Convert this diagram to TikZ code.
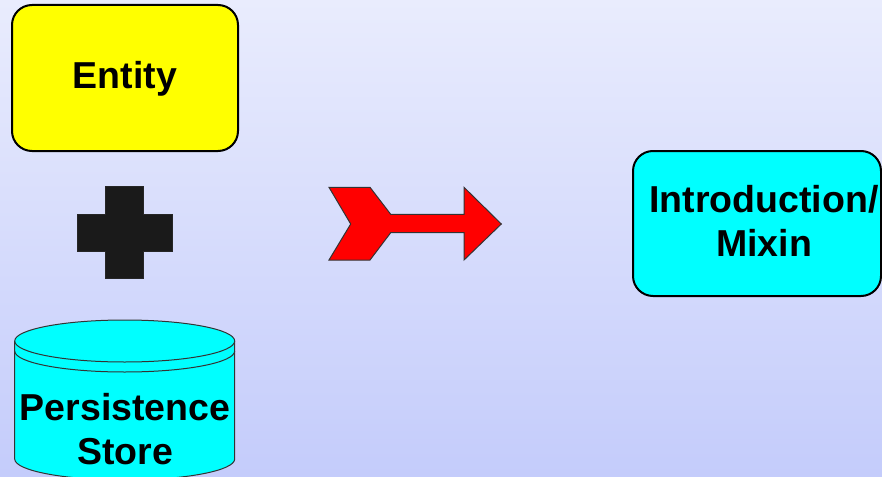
\documentclass[tikz,border=0pt]{standalone}
\usepackage{fontspec}
\setmainfont{Liberation Sans}
\definecolor{bgtop}{HTML}{E9ECFD}
\definecolor{bgbot}{HTML}{C4CCFB}
\definecolor{plusgray}{HTML}{1A1A1A}
\definecolor{cyanfill}{HTML}{00FFFF}
\definecolor{yellowfill}{HTML}{FFFF00}
\definecolor{redfill}{HTML}{FF0000}
\begin{document}
\begin{tikzpicture}[x=1pt,y=-1pt,
  lbl/.style={font=\fontsize{37.5}{44}\selectfont\bfseries, anchor=base, inner sep=0pt, align=center},
  roundbox/.style={draw=black, line width=2pt, rounded corners=20pt, inner sep=0pt},
  thin/.style={draw=black!80, line width=1pt}]
\shade[top color=bgtop, bottom color=bgbot] (0,0) rectangle (882,476);
\useasboundingbox (0,0) rectangle (882,476);
\begin{scope}
\clip (0,0) rectangle (882,476);
% Entity box
\node[roundbox, fill=yellowfill, minimum width=226pt, minimum height=146pt] (entity) at (125,78) {};
\node[lbl] (entitytxt) at (125,88.3) {Entity};
% plus
\path[fill=plusgray, draw=black!85, line width=0.8pt]
  (105.7,186.7) -- (143.7,186.7) -- (143.7,214) -- (172.3,214) -- (172.3,251.3)
  -- (143.7,251.3) -- (143.7,278.7) -- (105.7,278.7) -- (105.7,251.3) -- (77.7,251.3)
  -- (77.7,214) -- (105.7,214) -- cycle;
\coordinate (plus) at (125,233);
% cylinder
\path[fill=cyanfill, thin] (14.7,341) -- (14.7,459) arc[start angle=180, end angle=360, x radius=110, y radius=-21]
  -- (234.7,341) arc[start angle=0, end angle=180, x radius=110, y radius=-21] -- cycle;
\draw[thin] (14.7,341) arc[start angle=180, end angle=360, x radius=110, y radius=-21];
\draw[thin] (14.7,351) arc[start angle=180, end angle=360, x radius=110, y radius=-21];
\coordinate (store) at (124.7,400);
\node[lbl] (storetxt) at (125,420) {Persistence};
\node[lbl] (storetxt2) at (125,464) {Store};
% arrow
\path[fill=redfill, thin]
  (329,187.3) -- (370,187.3) -- (390.7,214.3) -- (464,214.3) -- (464,187.3) -- (501.3,224)
  -- (464,260) -- (464,232.7) -- (390.7,232.7) -- (370,260) -- (329,260) -- (350.7,224) -- cycle;
\coordinate (arrow) at (415,224);
% Intro box
\node[roundbox, fill=cyanfill, minimum width=248pt, minimum height=145pt] (intro) at (757,223.5) {};
\node[lbl] (introtxt) at (764,212.7) {Introduction/};
\node[lbl] (introtxt2) at (764,256.7) {Mixin};
\end{scope}
\end{tikzpicture}
\end{document}
